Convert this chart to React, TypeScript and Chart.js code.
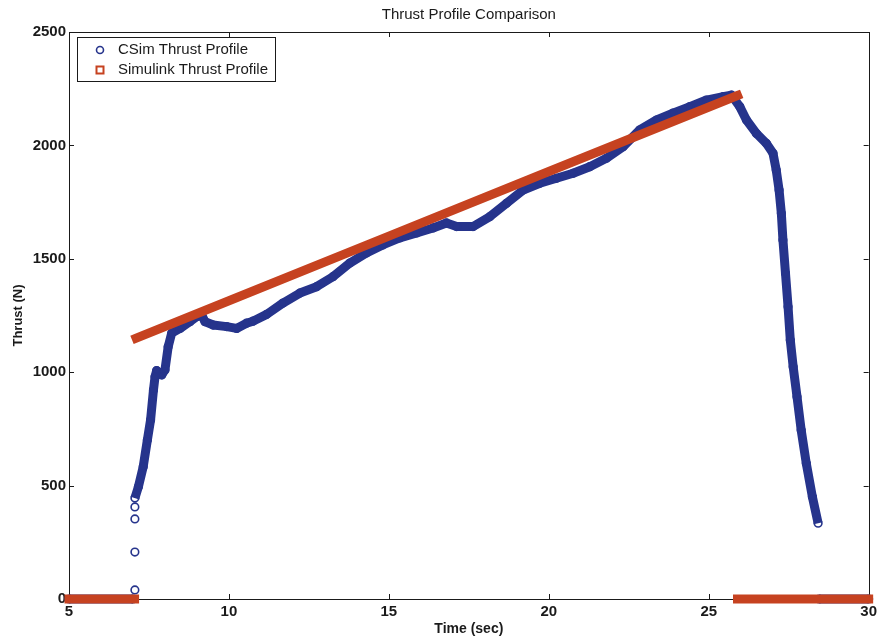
import { useEffect, useRef } from "react";
import { Chart, registerables } from "chart.js";

Chart.register(...registerables);

const chartTitle = "Thrust Profile Comparison";
const xAxisLabel = "Time (sec)";
const yAxisLabel = "Thrust (N)";
const csimLabel = "CSim Thrust Profile";
const simulinkLabel = "Simulink Thrust Profile";

const xTickValues = [5, 10, 15, 20, 25, 30];
const yTickValues = [0, 500, 1000, 1500, 2000, 2500];

// CSim thrust profile (null = break between samples)
const csimTime = [
  5.0, 7.0, 7.03,
  7.06, 7.06, 7.06, 7.06, 7.06, 7.06, 7.06, 7.06,
  7.06, 7.17, 7.32, 7.45, 7.55, 7.64, 7.69, 7.74, 7.9, 8.0, 8.1, 8.21,
  8.47, 8.78, 8.99, 9.15, 9.25, 9.51, 9.93, 10.24, 10.55, 10.75, 11.18,
  11.69, 12.22, 12.74, 13.25, 13.78, 14.3, 14.81, 15.34, 15.87, 16.38,
  16.8, 17.12, 17.63, 18.16, 18.68, 19.2, 19.72, 20.24, 20.76, 21.28,
  21.8, 22.32, 22.84, 23.37, 23.88, 24.41, 24.93, 25.45, 25.71, 25.97,
  26.18, 26.49, 26.8, 27.01, 27.11, 27.2, 27.27, 27.32, 27.4, 27.48,
  27.55, 27.64, 27.76, 27.89, 28.05, 28.24, 28.42,
  28.43, 28.45, 30.0,
];
const csimThrust: (number | null)[] = [
  0, 0, null,
  40, null, 207, null, 353, null, 406, null,
  445, 495, 583, 701, 789, 921, 980, 1007, 988, 1010, 1112, 1172,
  1193, 1223, 1245, 1252, 1223, 1208, 1201, 1193, 1216, 1225, 1255,
  1305, 1349, 1377, 1421, 1481, 1526, 1561, 1592, 1614, 1636,
  1658, 1642, 1642, 1686, 1745, 1803, 1833, 1855, 1877, 1906,
  1943, 1994, 2068, 2112, 2142, 2171, 2200, 2215, 2222, 2171,
  2112, 2053, 2009, 1965, 1892, 1803, 1701, 1583, 1436, 1289,
  1142, 1024, 892, 745, 598, 451, 334,
  null, 0, 0,
];

// Simulink thrust profile
const simulinkTime = [5.0, 7.05, 7.08, 7.1, 10, 15, 20, 25.9, 25.88, 25.9, 30.0];
const simulinkThrust: (number | null)[] = [0, 0, null, 1150, 1315, 1600, 1885, 2220, null, 0, 0];

const BLUE = "rgb(38,52,140)";
const RED = "rgb(198,66,32)";
const INK = "#1a1a1a";
const FONT = "'Liberation Sans', Arial, sans-serif";

const framePlugin = {
  id: "matlabFrame",
  beforeDatasetsDraw(chart: any) {
    const { ctx, chartArea } = chart;
    const xs = chart.scales.x;
    const ys = chart.scales.y;
    const { left, right, top, bottom } = chartArea;
    ctx.save();
    ctx.strokeStyle = INK;
    ctx.lineWidth = 1;
    ctx.strokeRect(Math.round(left) + 0.5, Math.round(top) + 0.5, Math.round(right - left), Math.round(bottom - top));
    const tl = 5;
    ctx.beginPath();
    xTickValues.forEach((v) => {
      const px = Math.round(xs.getPixelForValue(v)) + 0.5;
      ctx.moveTo(px, bottom);
      ctx.lineTo(px, bottom - tl);
      ctx.moveTo(px, top);
      ctx.lineTo(px, top + tl);
    });
    yTickValues.forEach((v) => {
      const py = Math.round(ys.getPixelForValue(v)) + 0.5;
      ctx.moveTo(left, py);
      ctx.lineTo(left + tl, py);
      ctx.moveTo(right, py);
      ctx.lineTo(right - tl, py);
    });
    ctx.stroke();
    ctx.restore();
  },
  afterDraw(chart: any) {
    const { ctx, chartArea } = chart;
    const { left, right, top, bottom } = chartArea;
    ctx.save();
    ctx.fillStyle = INK;
    // title
    ctx.font = `15px ${FONT}`;
    ctx.textAlign = "center";
    ctx.textBaseline = "middle";
    ctx.fillText(chartTitle, (left + right) / 2, 15);
    // x label
    ctx.font = `bold 14px ${FONT}`;
    ctx.fillText(xAxisLabel, (left + right) / 2, 629);
    // y label
    ctx.save();
    ctx.translate(18, (top + bottom) / 2);
    ctx.rotate(-Math.PI / 2);
    ctx.font = `bold 13px ${FONT}`;
    ctx.fillText(yAxisLabel, 0, 0);
    ctx.restore();

    // legend
    const bx = 77.5, by = 37.5, bw = 198, bh = 44;
    ctx.fillStyle = "#ffffff";
    ctx.fillRect(bx, by, bw, bh);
    ctx.strokeStyle = INK;
    ctx.lineWidth = 1;
    ctx.strokeRect(bx, by, bw, bh);
    const ds = chart.data.datasets;
    ctx.strokeStyle = BLUE;
    ctx.lineWidth = 1.6;
    ctx.beginPath();
    ctx.arc(100, 50, 3.5, 0, Math.PI * 2);
    ctx.stroke();
    ctx.strokeStyle = RED;
    ctx.lineWidth = 2;
    ctx.strokeRect(96.5, 66.5, 7, 7);
    ctx.fillStyle = INK;
    ctx.font = `15px ${FONT}`;
    ctx.textAlign = "left";
    ctx.textBaseline = "middle";
    ctx.fillText(ds[0].label, 118, 50);
    ctx.fillText(ds[1].label, 118, 70);
    ctx.restore();
  },
};

export default function App() {
  const canvasRef = useRef<HTMLCanvasElement | null>(null);

  useEffect(() => {
    if (!canvasRef.current) return;
    const csimData = csimTime.map((t, i) => ({ x: t, y: csimThrust[i] }));
    const simData = simulinkTime.map((t, i) => ({ x: t, y: simulinkThrust[i] }));
    const chart = new Chart(canvasRef.current, {
      type: "scatter",
      data: {
        datasets: [
          {
            label: csimLabel,
            data: csimData as any,
            showLine: true,
            spanGaps: false,
            borderColor: BLUE,
            borderWidth: 9,
            borderJoinStyle: "round",
            borderCapStyle: "butt",
            pointRadius: 3.8,
            pointBorderWidth: 1.6,
            pointBorderColor: BLUE,
            pointBackgroundColor: "rgba(0,0,0,0)",
            pointStyle: "circle",
            clip: false as any,
            order: 2,
          },
          {
            label: simulinkLabel,
            data: simData as any,
            showLine: true,
            spanGaps: false,
            borderColor: RED,
            borderWidth: 9,
            borderCapStyle: "square",
            pointRadius: 0,
            clip: false as any,
            order: 1,
          },
        ],
      },
      options: {
        responsive: false,
        animation: false,
        layout: { padding: { top: 32, right: 12, left: 0, bottom: 0 } },
        plugins: {
          legend: { display: false },
          title: { display: false },
          tooltip: { enabled: false },
        },
        scales: {
          x: {
            type: "linear",
            min: 5,
            max: 30,
            afterBuildTicks: (s: any) => {
              s.ticks = xTickValues.map((v) => ({ value: v }));
            },
            afterFit: (s: any) => {
              s.height = 45;
            },
            grid: { display: false, drawTicks: false },
            border: { display: false },
            ticks: {
              padding: 4,
              color: INK,
              font: { family: FONT, size: 15, weight: "bold" },
              maxRotation: 0,
              callback: (v: any) => String(v),
            },
          },
          y: {
            type: "linear",
            min: 0,
            max: 2500,
            afterBuildTicks: (s: any) => {
              s.ticks = yTickValues.map((v) => ({ value: v }));
            },
            afterFit: (s: any) => {
              s.width = 69;
            },
            grid: { display: false, drawTicks: false },
            border: { display: false },
            ticks: {
              padding: 3,
              color: INK,
              font: { family: FONT, size: 15, weight: "bold" },
              callback: (v: any) => String(v),
            },
          },
        },
      },
      plugins: [framePlugin],
    });
    return () => chart.destroy();
  }, []);

  return (
    <canvas
      ref={canvasRef}
      width={881}
      height={644}
      style={{ position: "fixed", left: 0, top: 0, width: 881, height: 644, display: "block", background: "#fff" }}
    />
  );
}
